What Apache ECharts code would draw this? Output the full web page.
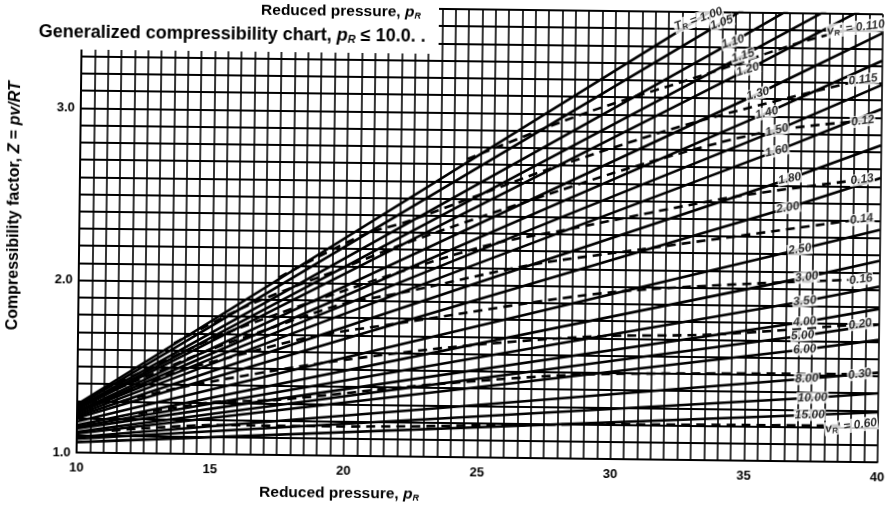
<!DOCTYPE html>
<html><head><meta charset="utf-8">
<script src="https://cdn.jsdelivr.net/npm/echarts@6/dist/echarts.min.js"></script>
<style>
html,body{margin:0;padding:0;background:#fff;overflow:hidden;width:890px;height:512px}
#c{width:890px;height:512px;transform:rotate(0.7deg);transform-origin:445px 256px}
</style>
</head><body><div id="c"></div>
<script>
// ---- axis ----
const prMin = 10, prMax = 40;
const zMin = 1.0, zMax = 3.6;
const xTickLabels = [10, 15, 20, 25, 30, 35, 40];
const yTickLabels = [1.0, 2.0, 3.0];

// ---- isotherms (T_R) ----
const isoT      = ['1.00','1.05','1.10','1.15','1.20','1.30','1.40','1.50','1.60','1.80','2.00','2.50','3.00','3.50','4.00','5.00','6.00','8.00','10.00','15.00'];
const isoZ10    = [1.28,1.27,1.26,1.255,1.25,1.24,1.235,1.23,1.22,1.21,1.20,1.18,1.16,1.15,1.14,1.12,1.11,1.09,1.08,1.06];
const isoLabPr  = [33.1,33.97,34.40,34.78,34.97,35.36,35.70,36.09,36.09,36.59,36.53,37.0,37.27,37.21,37.22,37.15,37.23,37.32,37.55,37.45];
const isoLabZ   = [3.56,3.54,3.43,3.35,3.27,3.13,3.02,2.92,2.80,2.64,2.47,2.23,2.07,1.93,1.81,1.73,1.65,1.48,1.37,1.27];
const isoZ40    = [4.24,4.12,3.94,3.80,3.69,3.49,3.33,3.19,3.05,2.84,2.65,2.35,2.17,2.02,1.89,1.80,1.71,1.52,1.40,1.29];

// ---- constant pseudo-reduced volume lines (v_R') ----
const dashV = ['0.110','0.115','0.12','0.13','0.14','0.16','0.20','0.30','0.60'];
const d110Pr = [24.5,28.8,33.4,36.9,39.0];              const d110Z = [2.73,3.00,3.24,3.43,3.52];
const d115Pr = [17.5,20.6,22.4,24.9,27.6,33.0,39.3];    const d115Z = [2.03,2.28,2.37,2.52,2.68,2.96,3.22];
const d120Pr = [13.6,16.0,17.8,19.9,22.1,26.4,31.2,35.7,39.3]; const d120Z = [1.64,1.84,1.96,2.09,2.23,2.47,2.72,2.91,2.98];
const d130Pr = [11.0,12.5,14.2,15.8,18.9,22.2,25.5,28.3,34.5,39.3]; const d130Z = [1.37,1.48,1.61,1.72,1.90,2.08,2.24,2.33,2.53,2.64];
const d140Pr = [11.0,12.2,14.7,17.3,19.9,22.1,26.9,31.1,39.3]; const d140Z = [1.34,1.42,1.59,1.74,1.88,1.95,2.12,2.22,2.41];
const d160Pr = [10.2,12.0,13.8,15.4,18.8,21.9,30.1,39.3]; const d160Z = [1.25,1.37,1.48,1.55,1.69,1.77,1.97,2.06];
const d200Pr = [11.7,13.7,18.9,24.1,29.3,33.8,39.3];    const d200Z = [1.30,1.38,1.53,1.64,1.71,1.73,1.80];
const d300Pr = [12.3,15.0,17.5,23.3,29.2,39.3];         const d300Z = [1.23,1.30,1.32,1.42,1.49,1.51];
const d600Pr = [11.3,15.4,19.4,29.4,39.0];              const d600Z = [1.13,1.17,1.17,1.20,1.21];
const dashPrList = [d110Pr,d115Pr,d120Pr,d130Pr,d140Pr,d160Pr,d200Pr,d300Pr,d600Pr];
const dashZList  = [d110Z,d115Z,d120Z,d130Z,d140Z,d160Z,d200Z,d300Z,d600Z];

// ---- layout ----
const G = {left: 79, right: 10, top: 9, bottom: 55};
const plotW = 890 - G.left - G.right, plotH = 512 - G.top - G.bottom;
const pxPerPr = plotW / (prMax - prMin), pxPerZ = plotH / (zMax - zMin);
const FONT = '"Liberation Sans", Arial, sans-serif';

const series = [];
isoT.forEach((t, i) => {
  series.push({
    type: 'line', name: 'T' + t, silent: true, symbol: 'none', clip: true,
    data: [[prMin, isoZ10[i]], [isoLabPr[i], isoLabZ[i]], [prMax, isoZ40[i]]],
    lineStyle: {color: '#000', width: 2.6}, z: 3
  });
});
dashV.forEach((v, i) => {
  series.push({
    type: 'line', name: 'v' + v, silent: true, symbol: 'none', clip: true, smooth: 0.3,
    data: dashPrList[i].map((p, k) => [p, dashZList[i][k]]),
    lineStyle: {color: '#000', width: 2.6, type: [9, 6]}, z: 3
  });
});

const labRich = {
  i: {fontStyle: 'italic', fontWeight: 'bold', fontSize: 12, fontFamily: FONT, color: '#000'},
  s: {fontStyle: 'italic', fontWeight: 'bold', fontSize: 8, fontFamily: FONT, color: '#000', verticalAlign: 'bottom', padding: [6, 0, 0, 0]}
};
const labelData = [];
isoT.forEach((t, i) => {
  const slopePx = (isoZ40[i] - isoZ10[i]) / (prMax - prMin) * pxPerZ / pxPerPr;
  const ang = Math.atan(slopePx) * 180 / Math.PI * 0.6;
  const txt = i === 0 ? '{i|T}{s|R}{i| = ' + t + '}' : '{i|' + t + '}';
  labelData.push({value: [isoLabPr[i], isoLabZ[i]], label: {formatter: txt, rotate: ang}});
});
dashV.forEach((v, i) => {
  const n = dashPrList[i].length - 1;
  const txt = (i === 0 || i === dashV.length - 1) ? "{i|v}{s|R}{i|' = " + v + '}' : '{i|' + v + '}';
  labelData.push({value: [dashPrList[i][n], dashZList[i][n]], label: {formatter: txt, rotate: 8}});
});
series.push({
  type: 'scatter', silent: true, symbolSize: 1, itemStyle: {color: 'rgba(0,0,0,0)'}, z: 5,
  label: {show: true, position: 'inside', backgroundColor: '#fff', padding: [0, 1], rich: labRich},
  data: labelData
});

const isTick = (v, arr) => arr.some(a => Math.abs(a - v) < 1e-6);
const nameRich = {
  b: {fontWeight: 'bold', fontSize: 15.5, fontFamily: FONT, fill: '#000'},
  i: {fontWeight: 'bold', fontStyle: 'italic', fontSize: 15.5, fontFamily: FONT, fill: '#000'},
  s: {fontWeight: 'bold', fontStyle: 'italic', fontSize: 9, fontFamily: FONT, fill: '#000', padding: [7, 0, 0, 0]}
};

const option = {
  animation: false,
  backgroundColor: '#fff',
  grid: G,
  xAxis: {
    type: 'value', min: prMin, max: prMax, interval: 0.5,
    axisLine: {show: true, lineStyle: {color: '#000', width: 2}},
    axisTick: {show: false},
    axisLabel: {color: '#000', fontSize: 13, fontWeight: 'bold', fontFamily: FONT, margin: 9,
      formatter: v => isTick(v, xTickLabels) ? String(Math.round(v)) : ''},
    splitLine: {show: true, lineStyle: {color: '#000', width: 1.6}}
  },
  yAxis: {
    type: 'value', min: zMin, max: zMax, interval: 0.1,
    axisLine: {show: true, lineStyle: {color: '#000', width: 2}},
    axisTick: {show: false},
    axisLabel: {color: '#000', fontSize: 13, fontWeight: 'bold', fontFamily: FONT, margin: 6,
      formatter: v => isTick(v, yTickLabels) ? v.toFixed(1) : ''},
    splitLine: {show: true, lineStyle: {color: '#000', width: 2.2}}
  },
  graphic: [
    {type: 'rect', z: 90, shape: {x: 70, y: -10, width: 366, height: 64}, style: {fill: '#fff'}},
    {type: 'text', x: 338, y: 13, z: 100, style: {
      text: '{b|Reduced pressure, }{i|p}{s|R}', align: 'center', verticalAlign: 'middle', rich: nameRich}},
    {type: 'text', left: 36, top: 28, z: 100, style: {
      text: '{n|Generalized compressibility chart, }{i|p}{s|R}{n| ≤ 10.0. .}',
      rich: {n: {fontSize: 18, fontFamily: FONT, fill: '#000', fontWeight: 'bold'},
             i: {fontStyle: 'italic', fontWeight: 'bold', fontSize: 18, fontFamily: FONT, fill: '#000'},
             s: {fontStyle: 'italic', fontWeight: 'bold', fontSize: 11, fontFamily: FONT, fill: '#000', padding: [8, 0, 0, 0]}}}},
    {type: 'text', x: 14, y: 211, rotation: Math.PI / 2, z: 100, style: {
      text: '{b|Compressibility factor, }{i|Z}{b| = }{i|pv/RT}', align: 'center', verticalAlign: 'middle',
      rich: {b: {fontWeight: 'bold', fontSize: 16, fontFamily: FONT, fill: '#000'},
             i: {fontWeight: 'bold', fontStyle: 'italic', fontSize: 16, fontFamily: FONT, fill: '#000'}}}},
    {type: 'text', x: 342, y: 495, z: 100, style: {
      text: '{b|Reduced pressure, }{i|p}{s|R}', align: 'center', verticalAlign: 'middle', rich: nameRich}}
  ],
  series: series
};
const chart = echarts.init(document.getElementById('c'), null, {renderer: 'canvas'});
chart.setOption(option);
</script></body></html>
